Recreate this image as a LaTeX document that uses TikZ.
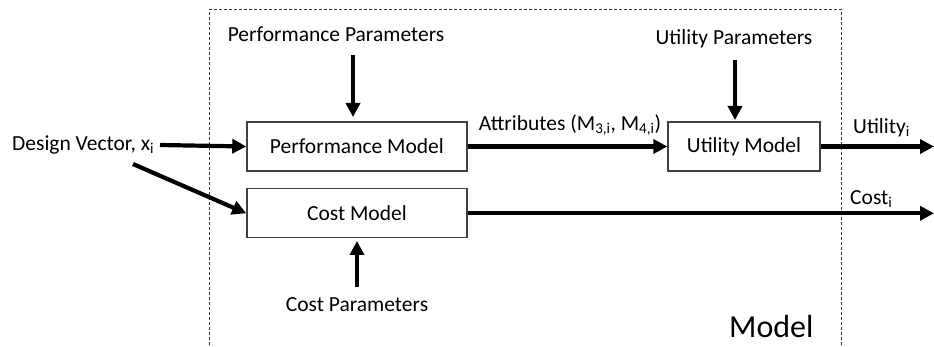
\documentclass[tikz,border=0pt]{standalone}
\usepackage{fontspec}
\setmainfont{Carlito}
\usetikzlibrary{arrows.meta}
\tikzset{
  modelbox/.style={draw=black!75, line width=1.3pt, minimum height=49pt, inner sep=0pt, font=\fontsize{21.5}{24}\selectfont},
  lbl/.style={inner sep=0pt, font=\fontsize{21.5}{24}\selectfont},
  flow/.style={line width=4.2pt, -{Triangle[length=14pt,width=14pt]}},
  frame/.style={dashed, dash pattern=on 3pt off 2pt, line width=0.8pt, black!80}
}
\begin{document}
\begin{tikzpicture}[x=1pt,y=-1pt]
\useasboundingbox (0,0) rectangle (934,347);
\draw[frame] (209,350) -- (209,9.5) -- (841,9.5) -- (841,350);
\node[modelbox, minimum width=220pt] (perf) at (356.9,146.5) {Performance Model};
\node[modelbox, minimum width=220pt] (cost) at (356.9,213.3) {Cost Model};
\node[modelbox, minimum width=152pt] (util) at (744,146.5) {Utility Model};
\node[lbl, anchor=west] (dv) at (12,145) {Design Vector, x\textsubscript{i}};
\node[lbl] (pp) at (336,34) {Performance Parameters};
\node[lbl] (cp) at (357,305) {Cost Parameters};
\node[lbl] (up) at (734,39) {Utility Parameters};
\node[lbl] (attr) at (570,125) {Attributes (M\textsubscript{3,i}, M\textsubscript{4,i})};
\node[lbl, anchor=west] (ui) at (853,128) {Utility\textsubscript{i}};
\node[lbl, anchor=west] (ci) at (850,199) {Cost\textsubscript{i}};
\node[inner sep=0pt, anchor=west, font=\fontsize{32}{36}\selectfont] (mdl) at (729,326) {Model};
\coordinate (dvs) at (133,164);
\coordinate (outU) at (934,146.5);
\coordinate (outC) at (934,213.3);
\coordinate (ppa) at (353,55);
\coordinate (ppb) at (353,117);
\coordinate (cpa) at (357,287);
\coordinate (cpb) at (357,241);
\coordinate (upa) at (735,60);
\coordinate (upb) at (735,120);
\draw[flow] (160,0 |- dv.east) -- (perf.west);
\draw[flow] (dvs) -- (cost.west);
\draw[flow] (ppa) -- (ppb);
\draw[flow] (cpa) -- (cpb);
\draw[flow] (upa) -- (upb);
\draw[flow] (perf.east) -- (util.west);
\draw[flow] (util.east) -- (outU);
\draw[flow] (cost.east) -- (outC);
\end{tikzpicture}
\end{document}
